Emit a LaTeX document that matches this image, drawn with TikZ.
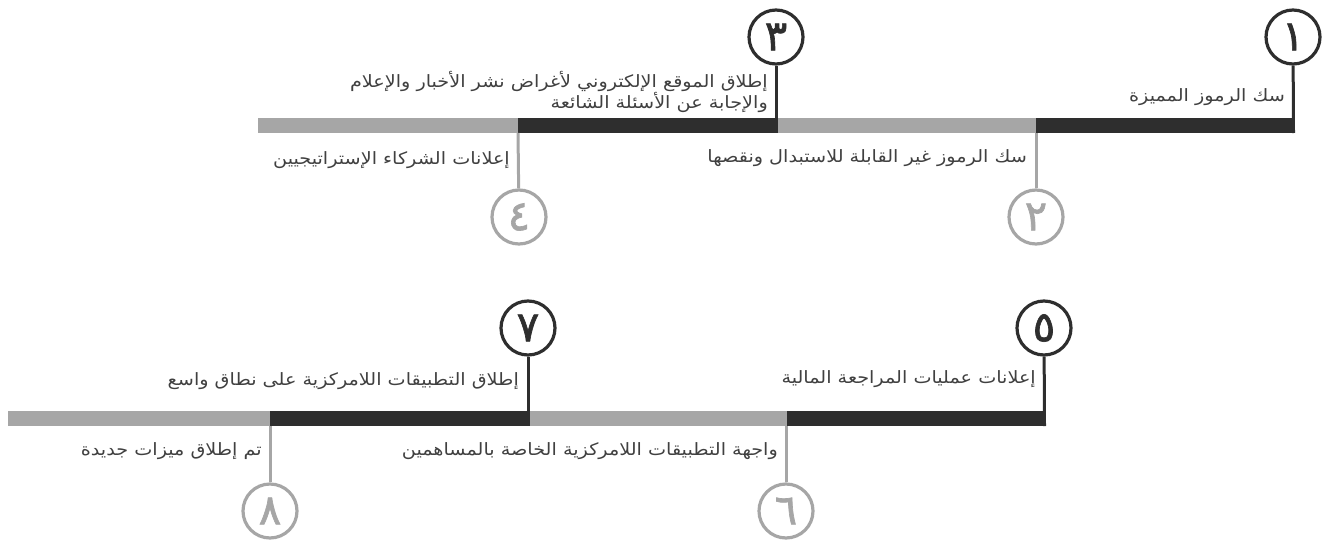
\documentclass[tikz,border=0pt]{standalone}
\usepackage{fontspec}
\newfontfamily\arabicfont[Script=Arabic,FakeStretch=1.13]{DejaVu Sans}
\newfontfamily\digitfont[Script=Arabic,FakeBold=1.6]{DejaVu Sans}
\TeXXeTstate=1
\definecolor{dk}{HTML}{2E2E2E}
\definecolor{lg}{HTML}{A6A6A6}
\definecolor{tx}{HTML}{404040}
\begin{document}
\begin{tikzpicture}[x=1pt,y=-1pt,
  num/.style={circle, line width=3.2pt, minimum size=54pt, inner sep=0pt,
    font=\digitfont\fontsize{42}{42}\selectfont},
  numdk/.style={num, draw=dk, text=dk},
  numlg/.style={num, draw=lg, text=lg},
  dkline/.style={draw=dk, line width=3pt},
  lgline/.style={draw=lg, line width=3pt},
  lbl/.style={font=\arabicfont\fontsize{17}{19}\selectfont, text=tx, inner sep=0pt, anchor=east}]
\useasboundingbox (0,0) rectangle (1325,546);
% ---------- top row ----------
\fill[lg] (258,118) rectangle (518,133);
\fill[dk] (518,118) rectangle (776,133);
\fill[lg] (776,118) rectangle (1036,133);
\fill[dk] (1036,118) rectangle (1295,133);
\coordinate (b1) at (1293.5,133);
\coordinate (b2) at (1036,133);
\coordinate (b3) at (776,133);
\coordinate (b4) at (518,133);
\node[numdk] (c1) at (1293,37) {١};
\node[numlg] (c2) at (1036,217) {٢};
\node[numdk] (c3) at (776,37) {٣};
\node[numlg] (c4) at (519,217) {٤};
\draw[dkline] (c1) -- (b1);
\draw[lgline] (b2) -- (c2);
\draw[dkline] (c3) -- (b3);
\draw[lgline] (b4) -- (c4);
\node[lbl] (t1) at (1285,97) {\beginR سك الرموز المميزة\endR};
\node[lbl] (t2) at (1027,158) {\beginR سك الرموز غير القابلة للاستبدال ونقصها\endR};
\node[lbl, align=right] (t3) at (768,92) {\beginR إطلاق الموقع الإلكتروني لأغراض نشر الأخبار والإعلام\endR\\\beginR والإجابة عن الأسئلة الشائعة\endR};
\node[lbl] (t4) at (510,160) {\beginR إعلانات الشركاء الإستراتيجيين\endR};
% ---------- bottom row ----------
\fill[lg] (8,411) rectangle (270,426);
\fill[dk] (270,411) rectangle (528,426);
\fill[lg] (528,411) rectangle (787,426);
\fill[dk] (787,411) rectangle (1046,426);
\coordinate (b5) at (1044.5,426);
\coordinate (b6) at (786,426);
\coordinate (b7) at (528,426);
\coordinate (b8) at (270,426);
\node[numdk] (c5) at (1044,328) {٥};
\node[numlg] (c6) at (786,511) {٦};
\node[numdk] (c7) at (528,328) {٧};
\node[numlg] (c8) at (270,511) {٨};
\draw[dkline] (c5) -- (b5);
\draw[lgline] (b6) -- (c6);
\draw[dkline] (c7) -- (b7);
\draw[lgline] (b8) -- (c8);
\node[lbl] (t5) at (1036,379) {\beginR إعلانات عمليات المراجعة المالية\endR};
\node[lbl] (t6) at (778,451) {\beginR واجهة التطبيقات اللامركزية الخاصة بالمساهمين\endR};
\node[lbl] (t7) at (519,381) {\beginR إطلاق التطبيقات اللامركزية على نطاق واسع\endR};
\node[lbl] (t8) at (262,451) {\beginR تم إطلاق ميزات جديدة\endR};
\end{tikzpicture}
\end{document}
